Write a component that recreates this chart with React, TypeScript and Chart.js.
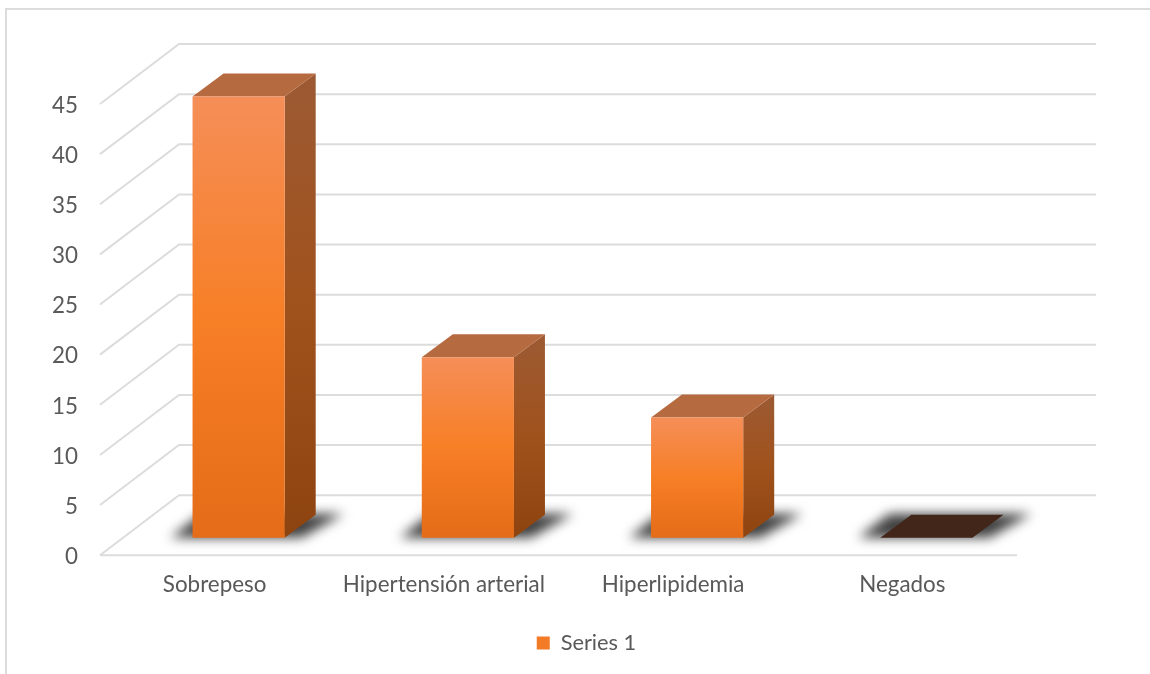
import React, { useEffect, useRef } from "react";
import { Chart, registerables } from "chart.js";

Chart.register(...registerables);

const categories = ["Sobrepeso", "Hipertensión arterial", "Hiperlipidemia", "Negados"];
const seriesName = "Series 1";
const seriesValues = [44, 18, 12, 0];
const yMin = 0;
const yMax = 45;
const yStep = 5;

const FONT = "Lato, Carlito, Calibri, sans-serif";
const FONT_SIZE = 22.4;
const GRID = "#dcdcdc";
const TEXT = "#595959";

// Oblique projection of the 3D floor and walls.
const WALL_DX = 79;
const WALL_DY = 60;
// The bars stand midway along the floor's depth.
const BAR_DX = 24;
const BAR_DY = 17.5;
const BAR_DEPTH_X = 31;
const BAR_DEPTH_Y = 23;

function polygon(ctx: CanvasRenderingContext2D, pts: number[][], fill: string | CanvasGradient) {
  ctx.beginPath();
  pts.forEach(([x, y], i) => (i ? ctx.lineTo(x, y) : ctx.moveTo(x, y)));
  ctx.closePath();
  ctx.fillStyle = fill;
  ctx.fill();
}

const wallPlugin = {
  id: "wall",
  beforeDatasetsDraw(chart: any) {
    const { ctx, chartArea, scales } = chart;
    ctx.save();
    // Outer frame of the chart object
    ctx.strokeStyle = GRID;
    ctx.lineWidth = 2;
    ctx.beginPath();
    ctx.moveTo(6, 674);
    ctx.lineTo(6, 9);
    ctx.lineTo(1150, 9);
    ctx.stroke();

    // Gridlines bent over the side wall and the back wall
    ctx.lineWidth = 2;
    for (let v = yMin; v <= yMax; v += yStep) {
      const y = scales.y.getPixelForValue(v);
      ctx.beginPath();
      ctx.moveTo(chartArea.left, y);
      ctx.lineTo(chartArea.left + WALL_DX, y - WALL_DY);
      ctx.lineTo(chartArea.right + WALL_DX, y - WALL_DY);
      ctx.stroke();
    }
    // Front edge of the floor
    const y0 = scales.y.getPixelForValue(0);
    ctx.beginPath();
    ctx.moveTo(chartArea.left, y0);
    ctx.lineTo(chartArea.right, y0);
    ctx.stroke();
    ctx.restore();

    // Soft floor shadows under each bar
    const meta = chart.getDatasetMeta(0);
    ctx.save();
    ctx.translate(BAR_DX, -BAR_DY);
    ctx.filter = "blur(6px)";
    meta.data.forEach((bar: any) => {
      const half = bar.width / 2;
      polygon(
        ctx,
        [
          [bar.x - half - 22, y0 + 0],
          [bar.x + half + 17, y0 + 0],
          [bar.x + half + BAR_DEPTH_X + 28, y0 - BAR_DEPTH_Y - 1],
          [bar.x - half + BAR_DEPTH_X - 22, y0 - BAR_DEPTH_Y - 1],
        ],
        "#404040"
      );
    });
    ctx.filter = "none";

    // Side and top faces of each bar
    meta.data.forEach((bar: any, i: number) => {
      const half = bar.width / 2;
      const l = bar.x - half;
      const r = bar.x + half;
      const top = bar.y;
      const top3d = [
        [l, top],
        [r, top],
        [r + BAR_DEPTH_X, top - BAR_DEPTH_Y],
        [l + BAR_DEPTH_X, top - BAR_DEPTH_Y],
      ];
      if (seriesValues[i] === 0) {
        polygon(ctx, top3d, "#42261a");
        return;
      }
      const side = ctx.createLinearGradient(0, top - BAR_DEPTH_Y, 0, y0);
      side.addColorStop(0, "#9c5a33");
      side.addColorStop(0.5, "#a0521c");
      side.addColorStop(1, "#8e4410");
      polygon(
        ctx,
        [
          [r, top],
          [r + BAR_DEPTH_X, top - BAR_DEPTH_Y],
          [r + BAR_DEPTH_X, y0 - BAR_DEPTH_Y],
          [r, y0],
        ],
        side
      );
      polygon(ctx, top3d, "#b66a40");
    });
    ctx.restore();

    // The library's own front faces are drawn on the same offset plane
    ctx.save();
    ctx.translate(BAR_DX, -BAR_DY);
  },
  afterDatasetsDraw(chart: any) {
    chart.ctx.restore();
  },
  afterLayout(chart: any) {
    // Nudges the legend to its place under the plot
    const legend = chart.legend;
    if (legend) {
      legend.left += 78;
      legend.right += 78;
    }
  },
};

function frontFace(context: any) {
  const { chart, dataIndex } = context;
  const scale = chart.scales.y;
  if (!scale || dataIndex === undefined) return "#f57f25";
  const v = seriesValues[dataIndex];
  if (!v) return "rgba(0,0,0,0)";
  const g = chart.ctx.createLinearGradient(0, scale.getPixelForValue(v), 0, scale.getPixelForValue(0));
  g.addColorStop(0, "#f58e58");
  g.addColorStop(0.5, "#f77f26");
  g.addColorStop(1, "#e56c18");
  return g;
}

export default function App() {
  const ref = useRef<HTMLCanvasElement>(null);
  useEffect(() => {
    if (!ref.current) return;
    const chart = new Chart(ref.current, {
      type: "bar",
      data: {
        labels: categories,
        datasets: [
          {
            label: seriesName,
            data: seriesValues,
            backgroundColor: frontFace,
            barPercentage: 0.402,
            categoryPercentage: 1,
            clip: false,
          } as any,
        ],
      },
      plugins: [wallPlugin],
      options: {
        responsive: false,
        animation: false,
        layout: { padding: { top: 104, right: 133, bottom: 10, left: 0 } },
        scales: {
          x: {
            grid: { display: false },
            border: { display: false },
            ticks: { color: TEXT, font: { family: FONT, size: FONT_SIZE }, padding: 8, maxRotation: 0, autoSkip: false },
            afterFit(scale: any) {
              scale.height = 59;
            },
          },
          y: {
            min: yMin,
            max: yMax,
            grid: { display: false, drawTicks: false },
            border: { display: false },
            ticks: { stepSize: yStep, color: TEXT, font: { family: FONT, size: FONT_SIZE }, padding: 22, labelOffset: 1.5 },
            afterFit(scale: any) {
              scale.width = 100;
            },
          },
        },
        plugins: {
          tooltip: { enabled: false },
          legend: {
            position: "bottom",
            labels: {
              color: TEXT,
              font: { family: FONT, size: 21.8 },
              boxWidth: 13,
              boxHeight: 13,
              padding: 18,
              generateLabels: () => [
                { text: seriesName, fillStyle: "#f47b25", strokeStyle: "#f47b25", lineWidth: 0, fontColor: TEXT, datasetIndex: 0 },
              ],
            },
          },
        },
      },
    } as any);
    return () => chart.destroy();
  }, []);
  return (
    <canvas
      ref={ref}
      width={1150}
      height={674}
      style={{ position: "absolute", left: 0, top: 0, width: 1150, height: 674, background: "#fff" }}
    />
  );
}
